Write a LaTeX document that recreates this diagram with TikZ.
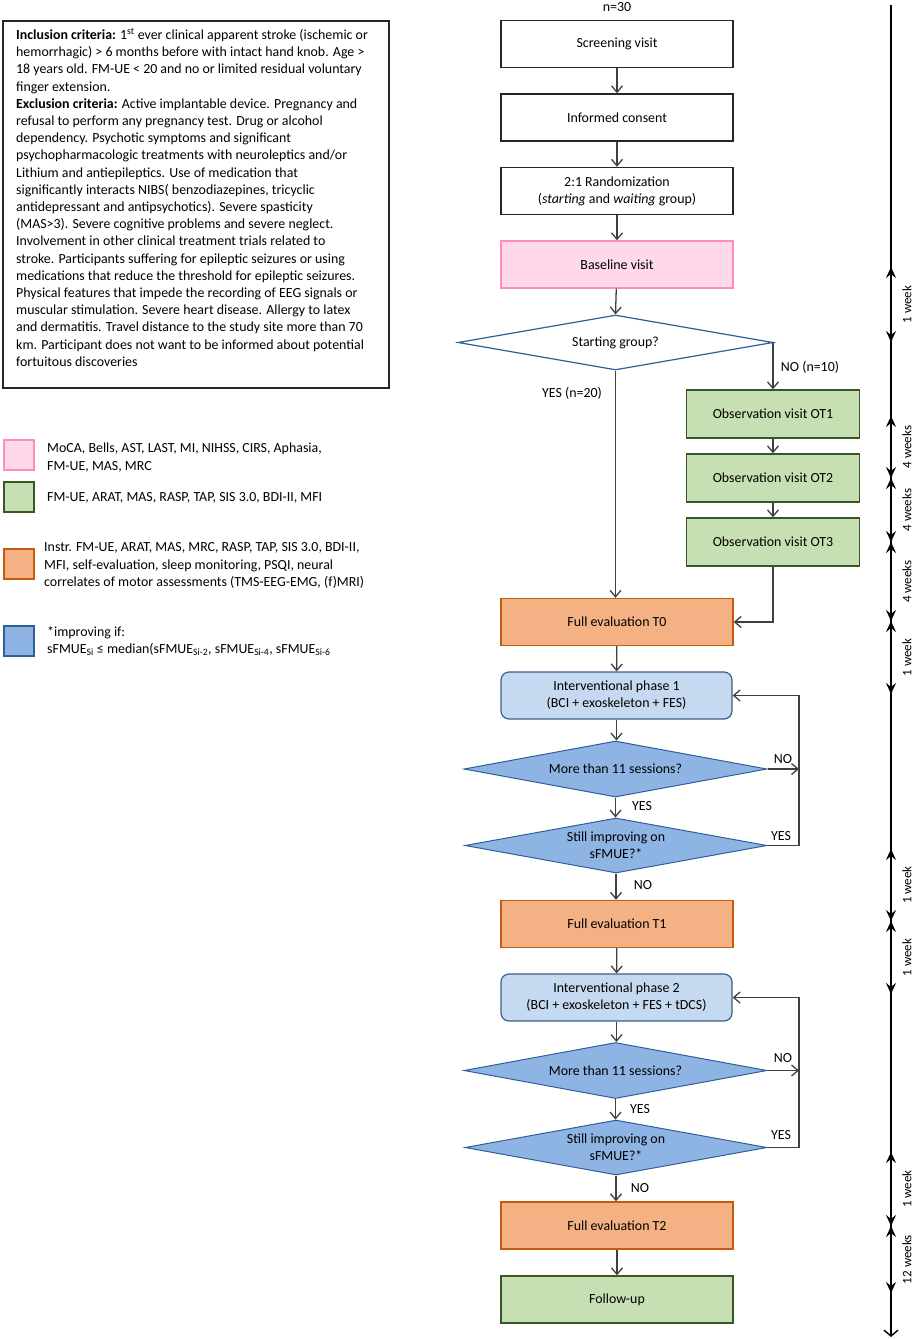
\documentclass[tikz,border=0pt]{standalone}
\usepackage{fontspec}
\setmainfont{Carlito}
\usetikzlibrary{shapes.geometric,arrows.meta}
\definecolor{linegray}{HTML}{404040}
\definecolor{pinkfill}{HTML}{FFD9EA}
\definecolor{pinkline}{HTML}{FF8CBE}
\definecolor{greenfill}{HTML}{C6E0B4}
\definecolor{greenline}{HTML}{385723}
\definecolor{orangefill}{HTML}{F4B183}
\definecolor{orangeline}{HTML}{C55A11}
\definecolor{ipfill}{HTML}{C5DAF0}
\definecolor{ipline}{HTML}{3A5F8A}
\definecolor{diafill}{HTML}{8DB4E2}
\definecolor{dialine}{HTML}{2F5F98}
\begin{document}
\begin{tikzpicture}[x=1pt,y=-1pt,
  font=\fontsize{13.9}{17.2}\selectfont,
  box/.style={rectangle, draw=black!85, line width=1.4pt, minimum width=232pt, minimum height=47pt, align=center, inner sep=2pt},
  pinkbox/.style={box, fill=pinkfill, draw=pinkline},
  greenbox/.style={box, fill=greenfill, draw=greenline},
  orangebox/.style={box, fill=orangefill, draw=orangeline},
  ipbox/.style={box, fill=ipfill, draw=ipline, rounded corners=8pt, line width=1.2pt},
  obsbox/.style={greenbox, minimum width=173pt, minimum height=48pt},
  dia/.style={diamond, aspect=5.5, inner sep=1pt, align=center, line width=1.2pt},
  whitedia/.style={dia, draw=dialine, fill=white},
  bluedia/.style={dia, draw=dialine, fill=diafill, line width=1pt},
  conn/.style={draw=linegray, line width=1.3pt, -{Straight Barb[length=6.5pt,width=11pt]}},
  plain/.style={draw=linegray, line width=1.3pt},
  lbl/.style={inner sep=0pt},
  tline/.style={draw=black, line width=1.4pt},
  tseg/.style={draw=black, line width=2.6pt, {Stealth[length=11pt,width=10pt,inset=4pt]}-{Stealth[length=11pt,width=10pt,inset=4pt]}},
  tlbl/.style={rotate=90, inner sep=0pt, font=\fontsize{13}{14}\selectfont},
  legsq/.style={draw, line width=2pt, minimum width=30pt, minimum height=30pt, inner sep=0pt},
  legtxt/.style={anchor=west, align=left, inner sep=0pt}
]
\path[use as bounding box] (0,0) rectangle (914,1339);

% ---------- left criteria box ----------
\draw[line width=1.5pt, draw=black!85] (3,21) rectangle (389,388);
\node[anchor=north west, align=left, inner sep=0pt] (crit) at (16,28) {%
\textbf{Inclusion criteria:} 1\textsuperscript{st} ever clinical apparent stroke (ischemic or\\
hemorrhagic) > 6 months before with intact hand knob. Age >\\
18 years old. FM-UE < 20 and no or limited residual voluntary\\
finger extension.\\
\textbf{Exclusion criteria:} Active implantable device. Pregnancy and\\
refusal to perform any pregnancy test. Drug or alcohol\\
dependency. Psychotic symptoms and significant\\
psychopharmacologic treatments with neuroleptics and/or\\
Lithium and antiepileptics. Use of medication that\\
significantly interacts NIBS( benzodiazepines, tricyclic\\
antidepressant and antipsychotics). Severe spasticity\\
(MAS>3). Severe cognitive problems and severe neglect.\\
Involvement in other clinical treatment trials related to\\
stroke. Participants suffering for epileptic seizures or using\\
medications that reduce the threshold for epileptic seizures.\\
Physical features that impede the recording of EEG signals or\\
muscular stimulation. Severe heart disease. Allergy to latex\\
and dermatitis. Travel distance to the study site more than 70\\
km. Participant does not want to be informed about potential\\
fortuitous discoveries};

% ---------- legend ----------
\node[legsq, fill=pinkfill, draw=pinkline] (lp) at (18.5,455) {};
\node[legtxt] (lpt) at (47,457.5) {MoCA, Bells, AST, LAST, MI, NIHSS, CIRS, Aphasia,\\FM-UE, MAS, MRC};
\node[legsq, fill=greenfill, draw=greenline] (lg) at (18.5,497) {};
\node[legtxt] (lgt) at (47,498) {FM-UE, ARAT, MAS, RASP, TAP, SIS 3.0, BDI-II, MFI};
\node[legsq, fill=orangefill, draw=orangeline] (lo) at (18.5,564) {};
\node[legtxt] (lot) at (44,565.5) {Instr. FM-UE, ARAT, MAS, MRC, RASP, TAP, SIS 3.0, BDI-II,\\MFI, self-evaluation, sleep monitoring, PSQI, neural\\correlates of motor assessments (TMS-EEG-EMG, (f)MRI)};
\node[legsq, fill=diafill, draw=dialine] (lb) at (18.5,641) {};
\node[legtxt] (lbt) at (47,641) {*improving if:\\sFMUE\textsubscript{Si} ≤ median(sFMUE\textsubscript{Si-2}, sFMUE\textsubscript{Si-4}, sFMUE\textsubscript{Si-6}};

% ---------- flowchart ----------
\node[lbl] (n30) at (617,7) {n=30};
\node[box] (scr) at (617,44) {Screening visit};
\node[box] (ic) at (617,117.5) {Informed consent};
\node[box] (rand) at (617,191) {2:1 Randomization\\(\textit{starting} and \textit{waiting} group)};
\node[pinkbox] (base) at (617,264.5) {Baseline visit};
\node[whitedia, minimum width=315pt, minimum height=55pt] (start) at (615.5,342.5) {Starting group?};
\node[obsbox] (ot1) at (773,414) {Observation visit OT1};
\node[obsbox] (ot2) at (773,478) {Observation visit OT2};
\node[obsbox] (ot3) at (773,542) {Observation visit OT3};
\node[orangebox] (t0) at (617,622) {Full evaluation T0};
\node[ipbox, minimum width=231pt] (ip1) at (616.5,695.5) {Interventional phase 1\\(BCI + exoskeleton + FES)};
\node[bluedia, minimum width=303pt, minimum height=56pt] (d1a) at (615.5,769) {More than 11 sessions?};
\node[bluedia, minimum width=302pt, minimum height=55pt] (d1b) at (616,845.5) {Still improving on\\sFMUE?*};
\node[orangebox] (t1) at (617,924) {Full evaluation T1};
\node[ipbox, minimum width=231pt] (ip2) at (616.5,997.5) {Interventional phase 2\\(BCI + exoskeleton + FES + tDCS)};
\node[bluedia, minimum width=303pt, minimum height=56pt] (d2a) at (615.5,1070.5) {More than 11 sessions?};
\node[bluedia, minimum width=302pt, minimum height=55pt] (d2b) at (616,1147.5) {Still improving on\\sFMUE?*};
\node[orangebox] (t2) at (617,1225.5) {Full evaluation T2};
\node[greenbox] (fu) at (617,1299.5) {Follow-up};

\coordinate (loop1) at (799,769);
\coordinate (loop2) at (799,1070.5);

\draw[conn] (scr) -- (ic);
\draw[conn] (ic) -- (rand);
\draw[conn] (rand) -- (base);
\draw[conn] (base) -- (start.north);
\draw[conn] (start.east) -| (ot1.north);
\draw[conn] (start.south) -- (start.south |- t0.north);
\draw[conn] (ot1) -- (ot2);
\draw[conn] (ot2) -- (ot3);
\draw[conn] (ot3.south) |- (t0.east);
\draw[conn] (t0) -- (ip1);
\draw[conn] (ip1.south) -- (ip1.south |- d1a.north);
\draw[conn] (d1a.south) -- (d1a.south |- d1b.north);
\draw[conn] (d1a.east) -- (loop1);
\draw[conn] (d1b.east) -| (loop1) |- (ip1.east);
\draw[conn] (d1b.south) -- (d1b.south |- t1.north);
\draw[conn] (t1) -- (ip2);
\draw[conn] (ip2.south) -- (ip2.south |- d2a.north);
\draw[conn] (d2a.south) -- (d2a.south |- d2b.north);
\draw[conn] (d2a.east) -- (loop2);
\draw[conn] (d2b.east) -| (loop2) |- (ip2.east);
\draw[conn] (d2b.south) -- (d2b.south |- t2.north);
\draw[conn] (t2) -- (fu);

\node[lbl] (lno0) at (810,367) {NO (n=10)};
\node[lbl] (lyes0) at (572,393) {YES (n=20)};
\node[lbl] (lno1) at (783,759) {NO};
\node[lbl] (lyes1) at (642,806) {YES};
\node[lbl] (lyes1b) at (781,836) {YES};
\node[lbl] (lno1b) at (643,885) {NO};
\node[lbl] (lno2) at (783,1058) {NO};
\node[lbl] (lyes2) at (640,1109) {YES};
\node[lbl] (lyes2b) at (781,1135) {YES};
\node[lbl] (lno2b) at (640,1188) {NO};

% ---------- timeline ----------
\coordinate (tltop) at (891,5);
\coordinate (tlbot) at (891,1337);
\draw[tline, -{Straight Barb[length=6pt,width=14pt]}] (tltop) -- (tlbot);
\coordinate (a1) at (891,267);
\coordinate (a2) at (891,342);
\coordinate (a3) at (891,416);
\coordinate (a4) at (891,478);
\coordinate (a5) at (891,542);
\coordinate (a6) at (891,621);
\coordinate (a7) at (891,694);
\coordinate (b1) at (891,849);
\coordinate (b2) at (891,921);
\coordinate (b3) at (891,994);
\coordinate (c1) at (891,1152);
\coordinate (c2) at (891,1226);
\coordinate (c3) at (891,1293);
\draw[tseg] (a1) -- (a2);
\draw[tseg] (a3) -- (a4);
\draw[tseg] (a4) -- (a5);
\draw[tseg] (a5) -- (a6);
\draw[tseg] (a6) -- (a7);
\draw[tseg] (b1) -- (b2);
\draw[tseg] (b2) -- (b3);
\draw[tseg] (c1) -- (c2);
\draw[tseg] (c2) -- (c3);
\node[tlbl] (w1) at (907,304.5) {1 week};
\node[tlbl] (w2) at (907,447) {4 weeks};
\node[tlbl] (w3) at (907,510) {4 weeks};
\node[tlbl] (w4) at (907,581.5) {4 weeks};
\node[tlbl] (w5) at (907,657.5) {1 week};
\node[tlbl] (w6) at (907,885) {1 week};
\node[tlbl] (w7) at (907,957.5) {1 week};
\node[tlbl] (w8) at (907,1189) {1 week};
\node[tlbl] (w9) at (907,1259.5) {12 weeks};
\end{tikzpicture}
\end{document}
